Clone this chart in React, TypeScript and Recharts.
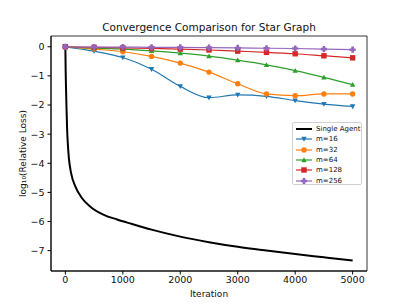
import React from "react"
import {
  LineChart,
  Line,
  XAxis,
  YAxis,
  ReferenceArea,
} from "recharts"

const iterations = [0, 500, 1000, 1500, 2000, 2500, 3000, 3500, 4000, 4500, 5000]

const m16 = [0, -0.15, -0.37, -0.77, -1.36, -1.75, -1.65, -1.7, -1.85, -1.97, -2.05]
const m32 = [0, -0.08, -0.17, -0.33, -0.56, -0.87, -1.27, -1.62, -1.68, -1.62, -1.62]
const m64 = [0, -0.05, -0.08, -0.14, -0.22, -0.32, -0.46, -0.62, -0.82, -1.05, -1.3]
const m128 = [0, -0.02, -0.04, -0.06, -0.08, -0.11, -0.15, -0.19, -0.24, -0.31, -0.38]
const m256 = [0, -0.01, -0.01, -0.02, -0.02, -0.03, -0.04, -0.05, -0.06, -0.08, -0.1]

const singleIter = [0, 5, 10, 20, 30, 45, 60, 100, 175, 290, 435, 670, 900, 1150, 1500, 2000, 2500, 3000, 3500, 4000, 4500, 5000]
const singleLoss = [0, -0.8, -1.3, -2.1, -2.8, -3.4, -3.8, -4.34, -4.8, -5.2, -5.49, -5.77, -5.93, -6.08, -6.28, -6.52, -6.71, -6.87, -7.0, -7.12, -7.23, -7.34]

const xTicks = [0, 1000, 2000, 3000, 4000, 5000]
const yTicks = [0, -1, -2, -3, -4, -5, -6, -7]

const X_DOMAIN = [-250, 5250]
const Y_DOMAIN = [-7.7, 0.37]

const FONT = "DejaVu Sans"

type Shape = "v" | "o" | "^" | "s" | "P" | "none"

function MarkerShape({ shape, cx, cy, color }: { shape: Shape; cx: number; cy: number; color: string }) {
  const r = 2.7
  if (shape === "o") return <circle cx={cx} cy={cy} r={r} fill={color} />
  if (shape === "s") return <rect x={cx - r} y={cy - r} width={2 * r} height={2 * r} fill={color} />
  if (shape === "v")
    return <polygon points={`${cx - r},${cy - r * 0.8} ${cx + r},${cy - r * 0.8} ${cx},${cy + r}`} fill={color} />
  if (shape === "^")
    return <polygon points={`${cx - r},${cy + r * 0.8} ${cx + r},${cy + r * 0.8} ${cx},${cy - r}`} fill={color} />
  if (shape === "P") {
    const a = 3.1
    const b = 1.3
    return (
      <polygon
        points={`${cx - b},${cy - a} ${cx + b},${cy - a} ${cx + b},${cy - b} ${cx + a},${cy - b} ${cx + a},${cy + b} ${cx + b},${cy + b} ${cx + b},${cy + a} ${cx - b},${cy + a} ${cx - b},${cy + b} ${cx - a},${cy + b} ${cx - a},${cy - b} ${cx - b},${cy - b}`}
        fill={color}
      />
    )
  }
  return null
}

const series = [
  { name: "m=16", values: m16, color: "#1f77b4", shape: "v" as Shape },
  { name: "m=32", values: m32, color: "#ff7f0e", shape: "o" as Shape },
  { name: "m=64", values: m64, color: "#2ca02c", shape: "^" as Shape },
  { name: "m=128", values: m128, color: "#d62728", shape: "s" as Shape },
  { name: "m=256", values: m256, color: "#9467bd", shape: "P" as Shape },
]

const singleData = singleIter.map((x, i) => ({ x, y: singleLoss[i] }))

const fmt = (v: number) => (v < 0 ? "\u2212" + Math.abs(v) : String(v))

function ChartLegend() {
  const items = [{ name: "Single Agent", color: "#000", shape: "none" as Shape }, ...series]
  return (
    <div
      style={{
        position: "absolute",
        left: 292,
        top: 122,
        width: 70,
        height: 63,
        border: "1px solid #d0d0d0",
        borderRadius: 2,
        background: "#fff",
        boxSizing: "border-box",
        fontFamily: FONT,
        fontSize: 7,
        paddingTop: 1,
      }}
    >
      {items.map((it) => (
        <div key={it.name} style={{ display: "flex", alignItems: "center", height: 10.3 }}>
          <svg width={22} height={10} style={{ marginLeft: 1 }}>
            <line x1={2} x2={18} y1={5} y2={5} stroke={it.color} strokeWidth={it.shape === "none" ? 2 : 1.2} />
            <MarkerShape shape={it.shape} cx={10} cy={5} color={it.color} />
          </svg>
          <span style={{ color: "#111" }}>{it.name}</span>
        </div>
      ))}
    </div>
  )
}

export default function App() {
  return (
    <div style={{ position: "absolute", left: 0, top: 0, width: 407, height: 305, background: "#fff" }}>
      <LineChart width={407} height={305} margin={{ top: 36, right: 40, left: 0, bottom: 0 }}>
        <XAxis
          dataKey="x"
          type="number"
          domain={X_DOMAIN}
          ticks={xTicks}
          allowDataOverflow
          height={34}
          tickSize={3.5}
          tickMargin={2}
          stroke="#000"
          tick={{ fill: "#111", fontSize: 9.5, fontFamily: FONT }}
          label={{ value: "Iteration", position: "insideBottom", offset: 8, fill: "#111", fontSize: 9, fontFamily: FONT }}
        />
        <YAxis
          type="number"
          domain={Y_DOMAIN}
          ticks={yTicks}
          allowDataOverflow
          width={51}
          tickSize={3.5}
          tickMargin={3}
          stroke="#000"
          tickFormatter={fmt}
          tick={{ fill: "#111", fontSize: 9.5, fontFamily: FONT }}
          label={{
            value: "log\u2081\u2080(Relative Loss)",
            angle: -90,
            position: "insideLeft",
            offset: 23,
            style: { textAnchor: "middle" },
            fill: "#111",
            fontSize: 9,
            fontFamily: FONT,
          }}
        />
        <ReferenceArea
          x1={X_DOMAIN[0]}
          x2={X_DOMAIN[1]}
          y1={Y_DOMAIN[0]}
          y2={Y_DOMAIN[1]}
          fill="none"
          stroke="#000"
          strokeWidth={0.8}
        />
        <Line
          data={singleData}
          dataKey="y"
          type="monotone"
          stroke="#000"
          strokeWidth={2}
          dot={false}
          isAnimationActive={false}
        />
        {series.map((s) => (
          <Line
            key={s.name}
            data={iterations.map((x, i) => ({ x, y: s.values[i] }))}
            dataKey="y"
            type="monotone"
            stroke={s.color}
            strokeWidth={1.2}
            isAnimationActive={false}
            dot={(p: any) => (
              <MarkerShape key={`${s.name}-${p.index}`} shape={s.shape} cx={p.cx} cy={p.cy} color={s.color} />
            )}
          />
        ))}
        <text x={209} y={31} textAnchor="middle" fontFamily={FONT} fontSize={10.5} fill="#111">
          Convergence Comparison for Star Graph
        </text>
      </LineChart>
      <ChartLegend />
    </div>
  )
}
